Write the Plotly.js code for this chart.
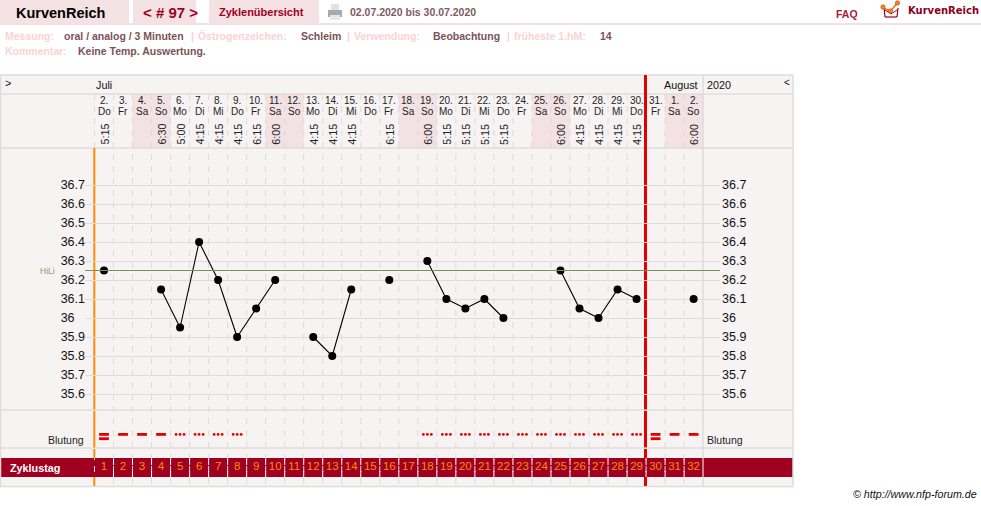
<!DOCTYPE html>
<html><head><meta charset="utf-8">
<script src="https://cdn.plot.ly/plotly-3.0.1.min.js"></script>
<style>html,body{margin:0;padding:0;background:#fff;overflow:hidden}#c{width:981px;height:506px}</style>
</head><body><div id="c"></div>
<script>
// ---------- data ----------
const cycleDays = [1,2,3,4,5,6,7,8,9,10,11,12,13,14,15,16,17,18,19,20,21,22,23,24,25,26,27,28,29,30,31,32];
const dates = ['2.','3.','4.','5.','6.','7.','8.','9.','10.','11.','12.','13.','14.','15.','16.','17.','18.','19.','20.','21.','22.','23.','24.','25.','26.','27.','28.','29.','30.','31.','1.','2.'];
const weekdays = ['Do','Fr','Sa','So','Mo','Di','Mi','Do','Fr','Sa','So','Mo','Di','Mi','Do','Fr','Sa','So','Mo','Di','Mi','Do','Fr','Sa','So','Mo','Di','Mi','Do','Fr','Sa','So'];
const times = ['5:15','','','6:30','5:00','4:15','4:15','4:15','6:15','6:00','','4:15','4:15','4:15','','6:15','','6:00','5:15','5:15','5:15','5:15','','','6:00','4:15','4:15','4:15','4:15','','','6:00'];
const temps = [36.25,null,null,36.15,35.95,36.4,36.2,35.9,36.05,36.2,null,35.9,35.8,36.15,null,36.2,null,36.3,36.1,36.05,36.1,36.0,null,null,36.25,36.05,36.0,36.15,36.1,null,null,36.1];
const bleeding = [3,2,2,2,1,1,1,1,0,0,0,0,0,0,0,0,0,1,1,1,1,1,1,1,1,1,1,1,1,3,2,2];
const tempTicks = [35.6,35.7,35.8,35.9,36,36.1,36.2,36.3,36.4,36.5,36.6,36.7];
const hiliLevel = 36.25;

// ---------- page geometry ----------
const W=981,H=506,colW=19.02,day1X=104;
const px=v=>v/W, py=v=>1-v/H;
const dayAt=x=>1+(x-day1X)/colW;
const tempAt=y=>36.7+(185-y)/190;
const plotL=85,plotR=720,plotT=148,plotB=410;
const font='"Liberation Sans", Arial, sans-serif';
const narrow='"Liberation Sans Narrow", "Liberation Sans", sans-serif';
const pink='#f3e1e4',bg='#f8f3f3',rule='#dedcdc',crimson='#a0001f',red='#e30000',orange='#ff8a0a';

const shapes=[],ann=[];
const rectP=(x0,y0,x1,y1,c)=>shapes.push({type:'rect',xref:'paper',yref:'paper',x0:px(x0),x1:px(x1),y0:py(y0),y1:py(y1),fillcolor:c,line:{width:0},layer:'below'});
const lineP=(x0,y0,x1,y1,c,w,d,l)=>shapes.push({type:'line',xref:'paper',yref:'paper',x0:px(x0),x1:px(x1),y0:py(y0),y1:py(y1),line:{color:c,width:w,dash:d||'solid'},layer:l||'below'});
const txt=(x,y,t,o={})=>ann.push({xref:o.dayX?'x':'paper',yref:'paper',x:o.dayX?x:px(x-((o.a||'left')==='left'?2:0)),y:py(y),text:t,showarrow:false,xanchor:o.a||'left',yanchor:'middle',textangle:o.rot||0,borderpad:0,
  font:{family:o.f||font,size:o.s||11,color:o.c||'#111',weight:o.b?700:400,style:o.i?'italic':'normal'}});

// header
rectP(0,0,129,23,pink);rectP(133,0,196,23,pink);rectP(209,0,319,23,pink);rectP(0,23,W,25,pink);
txt(17,13,'KurvenReich',{s:14.5,b:1,c:'#000'});
txt(144,13,'&lt; # 97 &gt;',{s:15,b:1,c:crimson});
txt(220,12.5,'Zyklenübersicht',{s:11,b:1,c:crimson});
txt(351,12.5,'02.07.2020 bis 30.07.2020',{s:10.5,b:1,c:'#7c5c62'});
txt(837,14.5,'FAQ',{s:10.5,b:1,c:'#a3223a'});
txt(909,10.5,'KurvenReich',{s:10,b:1,c:'#8c0019',f:'"DejaVu Sans", sans-serif'});
// printer icon
rectP(331,4,339,10,'#dfe3e6');rectP(328,10,342,17,'#a3abb2');rectP(330,15,340,20,'#e6e8ea');
// logo
lineP(883,8,890.5,11,'#e8701a',1.5,null,'above');lineP(890.5,11,897.5,3,'#e8701a',1.5,null,'above');
lineP(884,8,885,17,crimson,1.2);lineP(885,17,897,17,crimson,1.2);lineP(897,17,898,8,crimson,1.2);
lineP(885,10,891,14,crimson,1);lineP(891,14,897,10,crimson,1);
[[883,7],[890.5,11],[897.5,3]].forEach(p=>shapes.push({type:'circle',xref:'paper',yref:'paper',x0:px(p[0]-2.2),x1:px(p[0]+2.2),y0:py(p[1]-2.2),y1:py(p[1]+2.2),fillcolor:'#f08a1a',line:{color:'#c8401a',width:.6},layer:'above'}));

// meta
const lab='#fbd2d4',val='#7b5158';
[[6,36,'Messung:',lab],[65,36,'oral / analog / 3 Minuten',val],[192,36,'|',lab],[199,36,'Östrogenzeichen:',lab],[302,36,'Schleim',val],[348,36,'|',lab],[355,36,'Verwendung:',lab],[434,36,'Beobachtung',val],[508,36,'|',lab],[515,36,'früheste 1.hM:',lab],[601,36,'14',val],[6,51,'Kommentar:',lab],[79,51,'Keine Temp. Auswertung.',val]]
 .forEach(r=>txt(r[0],r[1],r[2],{s:10.5,b:1,c:r[3]}));

// chart panel
rectP(0,75,793,487,bg);
cycleDays.forEach((d,i)=>{ if(weekdays[i]==='Sa'||weekdays[i]==='So')
  shapes.push({type:'rect',xref:'x',yref:'paper',x0:d-.5,x1:d+.5,y0:py(94),y1:py(148),fillcolor:pink,line:{width:0},layer:'below'}); });
rectP(0,458,793,477,crimson);
[0,...cycleDays].forEach(k=>{ if(k<32){
  shapes.push({type:'line',xref:'x',yref:'paper',x0:k+.5,x1:k+.5,y0:py(94),y1:py(486),line:{color:'#dcdada',width:1,dash:'6px,6px'},layer:'below'});
  if(k>0) shapes.push({type:'line',xref:'x',yref:'paper',x0:k+.5,x1:k+.5,y0:py(459),y1:py(477),line:{color:'#ffffff',width:1,dash:'6px,6px'},layer:'below'});
}});
[75,94,148,410,448,486.5].forEach(y=>lineP(0,y,793,y,rule,1.5));
lineP(.5,75,.5,487,rule,1.5);lineP(793,75,793,487,rule,1.5);lineP(703,75,703,458,rule,1.5);lineP(703,477,703,487,rule,1.5);lineP(703,458,703,477,'#fff',1);
// cycle markers (orange start, red end), interrupted by rows
const seg=[[148,409.4],[411,447.4],[449,458],[477,486]];
seg.forEach(s=>shapes.push({type:'line',xref:'x',yref:'paper',x0:.49,x1:.49,y0:py(s[0]),y1:py(s[1]),line:{color:orange,width:2},layer:'below'}));
[[75,409.4],...seg.slice(1)].forEach(s=>shapes.push({type:'line',xref:'x',yref:'paper',x0:29.47,x1:29.47,y0:py(s[0]),y1:py(s[1]),line:{color:red,width:3},layer:'below'}));
// hi-li
shapes.push({type:'line',xref:'paper',yref:'y',x0:px(plotL),x1:px(plotR),y0:hiliLevel,y1:hiliLevel,line:{color:'#6f9655',width:1}});

// header texts
txt(6,83,'&gt;',{s:11});txt(97,85,'Juli',{s:10.8});
txt(699,85,'August',{s:10.8,a:'right'});txt(708,85,'2020',{s:10.8});txt(785,83,'&lt;',{s:10});
cycleDays.forEach((d,i)=>{
  txt(d,101,dates[i],{dayX:1,a:'center',f:narrow,s:10,c:'#222'});
  txt(d,111.5,weekdays[i],{dayX:1,a:'center',f:narrow,s:10,c:'#222'});
  if(times[i]) txt(d,134.5,times[i],{dayX:1,a:'center',rot:-90,s:10.8,c:'#222'});
});
txt(41,271,'HiLi',{s:8.5,c:'#7f9f68'});
txt(85,439.5,'Blutung',{s:10.5,a:'right',c:'#222'});
txt(708,439.5,'Blutung',{s:10.5,c:'#222'});
txt(11,467.5,'Zyklustag',{s:10.8,b:1,c:'#fff'});
txt(854,494,'© http://www.nfp-forum.de',{s:10.7,i:1,c:'#111'});

// ---------- traces ----------
const lanes=(code,offs,lane)=>{const xs=[],ys=[];cycleDays.forEach((d,i)=>{if(bleeding[i]===code)offs.forEach(o=>{xs.push(d+o);ys.push(lane);});});return{xs,ys};};
const dash={type:'scatter',mode:'markers',hoverinfo:'skip',showlegend:false,xaxis:'x',yaxis:'y2',marker:{symbol:'line-ew',size:7,line:{color:red,width:2.8},color:red}};
const up=lanes(3,[0],0),med=lanes(2,[0],0),low=lanes(3,[0],1),dots=lanes(1,[-.21,0,.21],0);
const traces=[
 {type:'scatter',mode:'lines+markers',x:cycleDays,y:temps,connectgaps:false,cliponaxis:false,showlegend:false,name:'Temperatur',
  line:{color:'#000',width:1.1},marker:{color:'#000',size:8}},
 {...dash,x:[...up.xs,...med.xs,...low.xs],y:[...up.ys,...med.ys,...low.ys]},
 {type:'scatter',mode:'markers',x:dots.xs,y:dots.ys,xaxis:'x',yaxis:'y2',hoverinfo:'skip',showlegend:false,marker:{color:red,size:2.8}},
 {type:'scatter',mode:'text',x:cycleDays,y:cycleDays.map(()=>0),text:cycleDays.map(String),textposition:'middle center',xaxis:'x',yaxis:'y4',hoverinfo:'skip',showlegend:false,
  textfont:{family:font,size:11.5,color:orange}},
 {type:'scatter',mode:'markers',x:cycleDays,y:temps,xaxis:'x',yaxis:'y3',hoverinfo:'skip',showlegend:false,marker:{size:1,opacity:0}}
];
const tempRange=[tempAt(plotB),tempAt(plotT)];
const leftTicks=tempTicks.map(t=>{const s=String(t);return s.length<4?s+'\u00a0\u00a0\u00a0':s;});
const layout={
 width:W,height:H,margin:{l:0,r:0,t:0,b:0,pad:0},paper_bgcolor:'#fff',plot_bgcolor:'rgba(0,0,0,0)',showlegend:false,
 xaxis:{domain:[px(plotL),px(plotR)],range:[dayAt(plotL),dayAt(plotR)],visible:false,fixedrange:true},
 yaxis:{domain:[py(plotB),py(plotT)],range:tempRange,anchor:'free',position:px(plotL),side:'left',tickmode:'array',tickvals:tempTicks,ticktext:leftTicks,showgrid:true,gridcolor:'#dedcdc',gridwidth:1,zeroline:false,showline:false,ticks:'',tickfont:{family:font,size:12.5,color:'#111'},fixedrange:true},
 yaxis3:{overlaying:'y',range:tempRange,anchor:'free',position:px(plotR+1),side:'right',tickmode:'array',tickvals:tempTicks,ticktext:tempTicks.map(String),showgrid:false,zeroline:false,showline:false,ticks:'',tickfont:{family:font,size:12.5,color:'#111'},fixedrange:true},
 yaxis2:{domain:[py(448),py(410)],range:[3.16,-5.67],visible:false,fixedrange:true},
 yaxis4:{domain:[py(477),py(458)],range:[-1,1],visible:false,fixedrange:true},
 shapes:shapes,annotations:ann
};
Plotly.newPlot('c',traces,layout,{staticPlot:true,displayModeBar:false});
</script></body></html>
